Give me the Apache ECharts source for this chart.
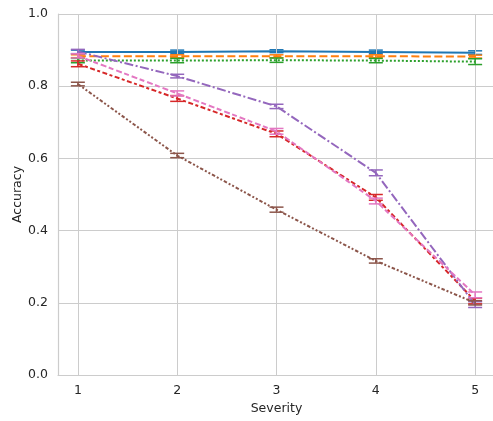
<!DOCTYPE html>
<html><head><meta charset="utf-8">
<script src="https://cdn.jsdelivr.net/npm/echarts@6/dist/echarts.min.js"></script>
<style>html,body{margin:0;padding:0;background:#fff}#c{width:493px;height:421px}</style>
</head><body><div id="c"></div>
<script>
const severities = [1, 2, 3, 4, 5];
const yTicks = [0, 0.2, 0.4, 0.6, 0.8, 1.0];
const blueVals   = [0.895, 0.895, 0.897, 0.895, 0.893];
const orangeVals = [0.883, 0.883, 0.883, 0.883, 0.882];
const greenVals  = [0.871, 0.871, 0.872, 0.871, 0.868];
const redVals    = [0.862, 0.766, 0.668, 0.492, 0.205];
const purpleVals = [0.896, 0.828, 0.744, 0.560, 0.195];
const brownVals  = [0.806, 0.608, 0.458, 0.316, 0.200];
const pinkVals   = [0.884, 0.780, 0.675, 0.482, 0.222];
const blueErr   = [0.005, 0.005, 0.004, 0.005, 0.005];
const orangeErr = [0.004, 0.004, 0.004, 0.004, 0.004];
const greenErr  = [0.006, 0.006, 0.006, 0.006, 0.008];
const redErr    = [0.008, 0.008, 0.008, 0.008, 0.008];
const purpleErr = [0.006, 0.005, 0.006, 0.008, 0.008];
const brownErr  = [0.005, 0.006, 0.007, 0.006, 0.006];
const pinkErr   = [0.006, 0.007, 0.008, 0.008, 0.008];

const seriesDefs = [
  {vals: blueVals, err: blueErr, color: '#1f77b4', dash: 'solid'},
  {vals: orangeVals, err: orangeErr, color: '#ff7f0e', dash: [8, 3.5]},
  {vals: greenVals, err: greenErr, color: '#2ca02c', dash: [2, 2]},
  {vals: redVals, err: redErr, color: '#d62728', dash: [5, 2.5, 3, 2.5]},
  {vals: purpleVals, err: purpleErr, color: '#9467bd', dash: [9, 2.5, 2, 2.5]},
  {vals: brownVals, err: brownErr, color: '#8c564b', dash: [3.5, 2, 2, 2, 2, 2]},
  {vals: pinkVals, err: pinkErr, color: '#e377c2', dash: [5, 3, 6, 2.5]}
];

const series = [];
seriesDefs.forEach((d, i) => {
  series.push({
    type: 'line',
    data: severities.map((s, k) => [s, d.vals[k]]),
    symbol: 'none',
    lineStyle: {color: d.color, width: 2, type: d.dash},
    z: 2 + i * 2,
    animation: false
  });
  series.push({
    type: 'custom',
    data: severities.map((s, k) => [s, d.vals[k], d.err[k]]),
    z: 3 + i * 2,
    animation: false,
    renderItem: function (params, api) {
      const x = api.value(0), y = api.value(1), e = api.value(2);
      const lo = api.coord([x, y - e]);
      const hi = api.coord([x, y + e]);
      const w = 7;
      const st = {stroke: d.color, lineWidth: 1.5, fill: 'none'};
      return {type: 'group', children: [
        {type: 'line', shape: {x1: lo[0], y1: lo[1], x2: hi[0], y2: hi[1]}, style: st},
        {type: 'line', shape: {x1: lo[0] - w, y1: lo[1], x2: lo[0] + w, y2: lo[1]}, style: st},
        {type: 'line', shape: {x1: hi[0] - w, y1: hi[1], x2: hi[0] + w, y2: hi[1]}, style: st}
      ]};
    }
  });
});

const chart = echarts.init(document.getElementById('c'), null, {renderer: 'canvas'});
const txt = '#262626';
const gridC = '#cccccc';
const fs = 12.5;
chart.setOption({
  animation: false,
  textStyle: {fontFamily: 'DejaVu Sans'},
  grid: {left: 58, top: 14, right: -2, bottom: 46, containLabel: false, outerBoundsMode: 'none'},
  xAxis: {
    type: 'value', min: 0.8, max: 5.2,
    name: 'Severity', nameLocation: 'middle', nameGap: 27, nameMoveOverlap: false,
    nameTextStyle: {color: txt, fontSize: fs, fontFamily: 'DejaVu Sans'},
    axisLine: {show: true, lineStyle: {color: gridC, width: 1.2}},
    axisTick: {show: false, customValues: severities},
    axisLabel: {customValues: severities, color: txt, fontSize: fs, margin: 9, fontFamily: 'DejaVu Sans'},
    splitLine: {show: false}
  },
  yAxis: {
    type: 'value', min: 0, max: 1, interval: 0.2,
    name: 'Accuracy', nameLocation: 'middle', nameGap: 34, nameMoveOverlap: false,
    nameTextStyle: {color: txt, fontSize: fs, fontFamily: 'DejaVu Sans'},
    axisLine: {show: true, lineStyle: {color: gridC, width: 1.2}},
    axisTick: {show: false},
    axisLabel: {color: txt, fontSize: fs, margin: 10, fontFamily: 'DejaVu Sans',
      formatter: v => (yTicks.some(t => Math.abs(t - v) < 1e-9) ? v.toFixed(1) : '')},
    splitLine: {show: true, lineStyle: {color: gridC, width: 1}}
  },
  series: series.concat([{
    type: 'line', data: [], z: 1, silent: true,
    markLine: {symbol: 'none', silent: true, label: {show: false}, animation: false,
      lineStyle: {color: gridC, width: 1, type: 'solid'},
      data: severities.map(s => ({xAxis: s}))}
  }])
});
</script></body></html>
